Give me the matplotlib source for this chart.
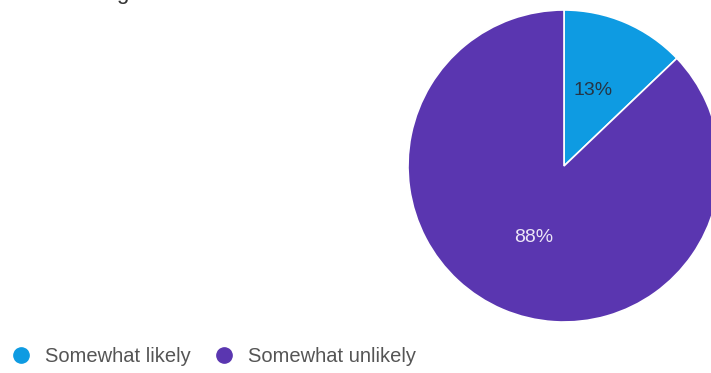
import matplotlib.pyplot as plt
from matplotlib.lines import Line2D

plt.rcParams['font.family'] = ['Liberation Sans', 'DejaVu Sans']

# response shares (percent)
labels = ['Somewhat likely', 'Somewhat unlikely']
values = [13, 88]
colors = ['#0e9be2', '#5a36b0']
pct_colors = ['#263545', '#ece6f7']

fig = plt.figure(figsize=(7.11, 3.73), dpi=100)
W, H = 711, 373

# pie axes in pixel terms: centre (564, 166), radius 156 -> right edge runs off the figure
cx, cy, r = 564, 166, 156
ax = fig.add_axes([(cx - r) / W, (H - cy - r) / H, 2 * r / W, 2 * r / H])

wedges, texts, autotexts = ax.pie(
    values, colors=colors, startangle=90, counterclock=False,
    autopct=lambda p: f'{p * sum(values) / 100:.0f}%', pctdistance=0.5,
    wedgeprops=dict(edgecolor='white', linewidth=1.2),
    textprops=dict(fontsize=14),
)
for t, c in zip(autotexts, pct_colors):
    t.set_color(c)
autotexts[0].set_position((autotexts[0].get_position()[0] * 0.95,
                           autotexts[0].get_position()[1] * 1.05))
ax.set_xlim(-1, 1)
ax.set_ylim(-1, 1)
ax.set_aspect('equal')
ax.set_axis_off()

# tail of the title line above the chart
fig.text(116 / W, 1.0 + 1.5 / H, 'g', fontsize=16, color='#333333', va='baseline')

# legend with round markers
handles = [Line2D([], [], marker='o', linestyle='', markersize=11,
                  markerfacecolor=c, markeredgecolor=c) for c in colors]
fig.legend(handles, labels, loc='center left', bbox_to_anchor=(5 / W, (H - 357) / H),
           ncol=2, frameon=False, fontsize=14.5, labelcolor='#555555',
           handlelength=1.2, handletextpad=0.6, columnspacing=1.05,
           borderaxespad=0, borderpad=0.2)

fig.savefig('out.png', dpi=100)
